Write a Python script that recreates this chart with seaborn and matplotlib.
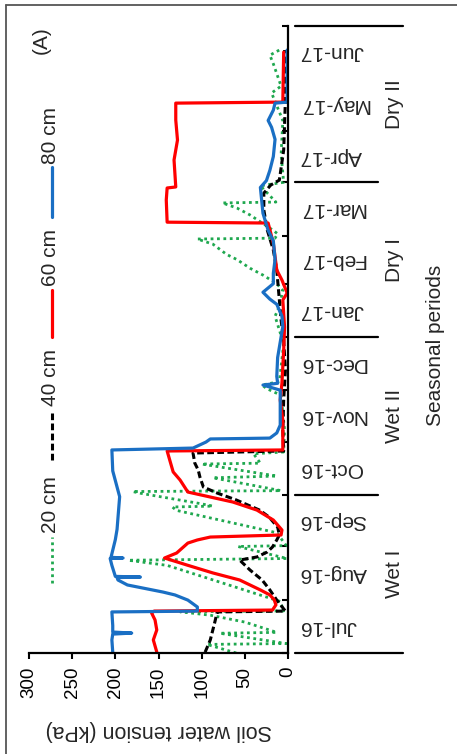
import numpy as np
import pandas as pd
import matplotlib
matplotlib.use("Agg")
import matplotlib.pyplot as plt
import matplotlib.transforms as mtransforms
from matplotlib.lines import Line2D
import seaborn as sns

# ---------------- data (days since 1 Jul 2016, tension in kPa) ----------------
months = ["Jul-16", "Aug-16", "Sep-16", "Oct-16", "Nov-16", "Dec-16",
          "Jan-17", "Feb-17", "Mar-17", "Apr-17", "May-17", "Jun-17"]
seasons = ["Wet I", "Wet II", "Dry I", "Dry II"]
season_bounds = ["2016-07-01", "2016-10-01", "2017-01-01", "2017-04-01", "2017-07-01"]
depths = ["20 cm", "40 cm", "60 cm", "80 cm"]

days_20 = [0, 5, 5.5, 11.5, 12, 18, 22, 24, 24.5, 30, 44, 51, 54, 55, 62, 62.5, 70, 83, 85, 85.5,
           87, 93, 94, 94.5, 102, 103, 110, 110.5, 116, 117, 130, 150, 154, 156, 158, 180, 196,
           202, 211, 215, 220, 224, 229, 232, 238, 241, 241.5, 244, 246, 250, 255, 259, 262,
           262.5, 272, 274, 290, 310, 326, 330, 343, 348, 351]
tension_20 = [60, 94, 2, 79, 13, 50, 90, 125, 5, 9, 96, 140, 185, 1, 58, 2, 13, 129, 134, 87,
              102, 171, 180, 8, 87, 13, 100, 32, 40, 5, 4, 8, 25, 30, 10, 5, 15,
              10, 6, 13, 29, 44, 59, 71, 87, 105, 15, 12, 17, 29, 44, 59, 76,
              14, 32, 5, 8, 6, 19, 8, 17, 21, 10]

days_40 = [0.5, 7.6, 11.6, 17.5, 23.9, 24.4, 30.8, 36.7, 42.5, 48.3, 54.1, 55.9, 58.8, 61.7,
           65.8, 68.7, 73.3, 79.2, 83.2, 89.1, 93.1, 96.6, 102.4, 106.5, 110.6, 116.4, 117.6,
           129.8, 147.3, 164.7, 182.2, 193.8, 205.5, 222.9, 234.6, 246.2, 257.9, 267.7, 272.4,
           275.3, 292.8, 321.9, 351]
tension_40 = [96, 90, 88, 85, 82, 3, 13, 21, 30, 44, 56, 36, 24, 18,
              13, 10, 12, 22, 33, 60, 82, 98, 102, 104, 108, 110, 5,
              6, 5, 3, 5, 8, 10, 13, 17, 24, 28, 28, 20,
              10, 5, 3, 4]

days_60 = [0.6, 7.6, 13.4, 19.2, 23.3, 24.4, 25, 28, 31, 33.8, 36.7, 42.5, 46.6, 51.2, 55.3,
           58.2, 64, 65.8, 67.5, 68.7, 71.6, 77.4, 83.2, 87.9, 90.8, 93.7, 100.7, 105.4, 110.6,
           117.6, 118.2, 135.6, 147.3, 157.2, 176.4, 189.8, 205.5, 209.5, 217.1, 222.9, 238.6,
           250.3, 250.8, 263.7, 270.7, 271.3, 287, 298.6, 310.2, 320.1, 320.7, 349.8]
tension_60 = [152, 156, 152, 154, 158, 155, 18, 14, 16, 21, 32, 56, 87, 117, 143,
              129, 116, 105, 90, 8, 7, 17, 36, 64, 90, 116, 125, 133, 136,
              140, 6, 6, 9, 7, 5, 4, 6, 1, 7, 13, 17,
              23, 140, 141, 140, 130, 132, 128, 130, 130, 6, 5]

days_80 = [0.5, 7.6, 11, 11.6, 12.2, 16, 23.9, 24.4, 26.8, 30.8, 33.8, 35.5, 37.8, 39.6, 42.5,
           43.9, 44.2, 44.6, 51, 55, 55.3, 55.7, 66, 72, 91, 106, 118.2, 119.3, 122.8, 124.6,
           125.1, 128.1, 132.7, 153, 156, 157, 161, 172, 190, 196, 203, 206, 210, 215, 221,
           229, 240, 246, 256, 271, 275, 281, 289, 299, 306, 310, 316, 320.1, 320.7, 351]
tension_80 = [203, 204, 203, 181, 203, 203, 204, 105, 105, 116, 131, 145, 168, 186, 197,
              198, 171, 200, 204, 206, 191, 205, 200, 198, 195, 203, 204, 110, 95, 90,
              21, 13, 9, 9, 29, 12, 13, 12, 6, 7, 13, 21, 29, 17, 17,
              15, 17, 23, 29, 32, 25, 21, 17, 15, 19, 23, 17, 15, 1, 1]

tension_ticks = [0, 50, 100, 150, 200, 250, 300]

# ---------------- styling ----------------
sns.set_theme(style="ticks")
plt.rcParams["font.family"] = ["Liberation Sans", "DejaVu Sans"]

colors = {"20 cm": "#1fa84f", "40 cm": "#000000", "60 cm": "#ff0000", "80 cm": "#1a6fc4"}
dash_styles = {"20 cm": (1, 1.3), "40 cm": (2.2, 1.1), "60 cm": None, "80 cm": None}
widths = {"20 cm": 2.0, "40 cm": 2.2, "60 cm": 2.3, "80 cm": 2.3}

series = {
    "20 cm": (days_20, tension_20),
    "40 cm": (days_40, tension_40),
    "60 cm": (days_60, tension_60),
    "80 cm": (days_80, tension_80),
}
frames = []
for name, (d, t) in series.items():
    frames.append(pd.DataFrame({"depth": name, "day": d, "tension": t}))
df = pd.concat(frames, ignore_index=True)

W, H = 457, 754
fig = plt.figure(figsize=(W / 100, H / 100), dpi=100)
fig.patch.set_facecolor("white")

def fx(px):
    return px / W

def fy(py):
    return 1 - py / H

ax_left, ax_right, ax_top, ax_bot = 29, 288, 26, 653
ax = fig.add_axes([fx(ax_left), fy(ax_bot), (ax_right - ax_left) / W, (ax_bot - ax_top) / H])
ax.set_facecolor("white")

for name in depths:
    sub = df[df["depth"] == name]
    line_kws = dict(color=colors[name], linewidth=widths[name])
    sns.lineplot(data=sub, x="tension", y="day", orient="y", sort=False, estimator=None,
                 ax=ax, legend=False, **line_kws)
    ln = ax.lines[-1]
    if dash_styles[name] is not None:
        ln.set_dashes(dash_styles[name])

ax.set_xlim(300, 0)
ax.set_ylim(0, 365)
ax.set_xlabel("")
ax.set_ylabel("")

start = pd.Timestamp("2016-07-01")
month_starts = pd.date_range("2016-07-01", "2017-07-01", freq="MS")
month_days = [(m - start).days for m in month_starts]
month_mids = [(a + b) / 2 for a, b in zip(month_days[:-1], month_days[1:])]

ax.set_xticks(tension_ticks)
ax.set_xticklabels([str(v) for v in tension_ticks])
ax.tick_params(axis="x", direction="out", length=4, width=1.5, labelsize=13.5, pad=6,
               labelrotation=90, color="black", labelcolor="black")

ax.yaxis.tick_right()
ax.set_yticks(month_days)
ax.set_yticklabels([""] * len(month_days))
ax.set_yticks(month_mids, minor=True)
ax.set_yticklabels(months, minor=True)
ax.tick_params(axis="y", which="major", direction="in", length=4, width=1.5,
               right=True, left=False, labelright=False, labelleft=False, color="black")
ax.tick_params(axis="y", which="minor", length=0, right=True, left=False,
               labelright=True, labelleft=False, labelsize=15, pad=8, labelrotation=180)
for lab in ax.get_yticklabels(minor=True):
    lab.set_verticalalignment("center")
    lab.set_horizontalalignment("left")

for side in ["top", "left"]:
    ax.spines[side].set_visible(False)
for side in ["bottom", "right"]:
    ax.spines[side].set_visible(True)
    ax.spines[side].set_color("black")
    ax.spines[side].set_linewidth(1.6)

# season separators and labels
trans = mtransforms.blended_transform_factory(ax.transAxes, ax.transData)
bounds_days = [(pd.Timestamp(b) - start).days for b in season_bounds]
for i, bd in enumerate(bounds_days):
    x_end = 1.444 if i in (0, len(bounds_days) - 1) else 1.347
    ax.plot([1.027, x_end], [bd, bd], transform=trans, color="black", lw=1.6, clip_on=False)
for name, a, b in zip(seasons, bounds_days[:-1], bounds_days[1:]):
    ax.text(1.413, (a + b) / 2, name, transform=trans, rotation=90, ha="center", va="center",
            fontsize=15)
ax.text(1.571, 0.49, "Seasonal periods", transform=ax.transAxes, rotation=90,
        ha="center", va="center", fontsize=15)
ax.text(0.5, -0.123, "Soil water tension (kPa)", transform=ax.transAxes, rotation=180,
        ha="center", va="center", fontsize=15.5)

# legend (rotated layout, drawn as figure artists)
leg_items = [("20 cm", 583, 537, 505), ("40 cm", 460, 413, 378),
             ("60 cm", 337, 290, 258), ("80 cm", 217, 167, 135)]
for name, y0, y1, yt in leg_items:
    l = Line2D([fx(52), fx(52)], [fy(y0), fy(y1)], transform=fig.transFigure,
               color=colors[name], lw=widths[name])
    if dash_styles[name] is not None:
        l.set_dashes(dash_styles[name])
    fig.add_artist(l)
    fig.text(fx(50), fy(yt), name, rotation=90, ha="center", va="center", fontsize=15)

fig.text(fx(41), fy(40), "(A)", rotation=90, ha="center", va="center", fontsize=15)

# outer frame
fig.add_artist(Line2D([fx(6), 1], [fy(5), fy(5)], transform=fig.transFigure, color="#555555", lw=1.3))
fig.add_artist(Line2D([fx(6), fx(6)], [fy(5), 0], transform=fig.transFigure, color="#555555", lw=1.3))

fig.savefig("out.png", dpi=100, facecolor="white")
